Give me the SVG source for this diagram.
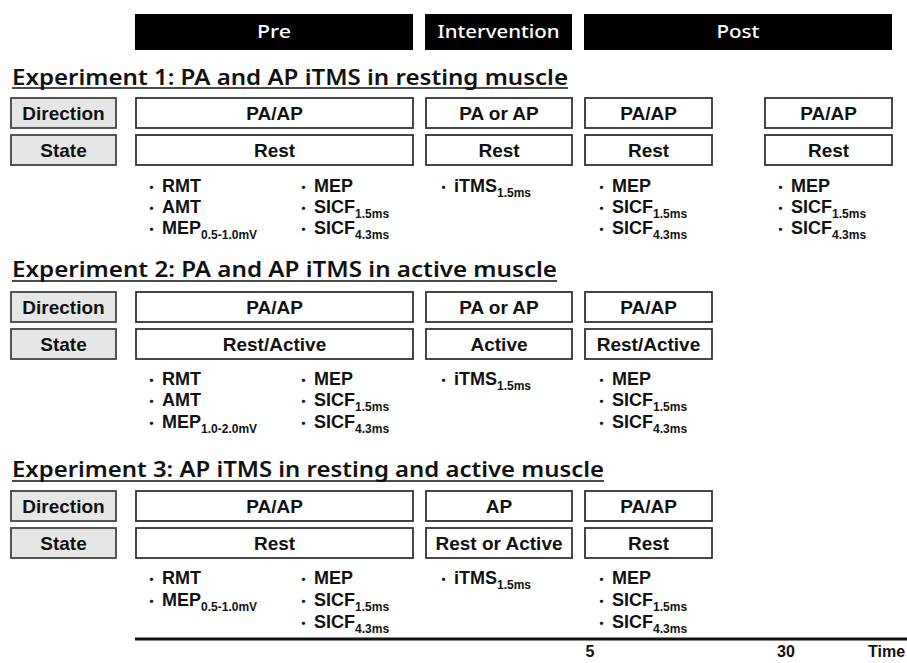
<svg xmlns="http://www.w3.org/2000/svg" width="907" height="663" viewBox="0 0 907 663">
<style>
.bar{fill:#000}
.bartxt{font-family:"Noto Sans","Liberation Sans",sans-serif;font-weight:500;font-size:18px;fill:#fff;text-anchor:middle}
.h{font-family:"Noto Sans","Liberation Sans",sans-serif;font-weight:600;font-size:22px;fill:#111}
.ul{stroke:#111;stroke-width:1.6}
.lbl{fill:#e6e6e6;stroke:#444;stroke-width:1.8}
.box{fill:#fff;stroke:#333;stroke-width:1.8}
.bt{font-family:"Liberation Sans",Arial,sans-serif;font-weight:bold;font-size:19px;text-anchor:middle;fill:#111}
.b{font-family:"Liberation Sans",Arial,"Noto Sans CJK JP",sans-serif;font-weight:bold;font-size:18px;fill:#111}
.d{font-family:"Noto Sans CJK JP",sans-serif;font-size:13px}
.sub{font-size:12px}
.tl{stroke:#111;stroke-width:3}
.tt{font-family:"Liberation Sans",Arial,sans-serif;font-weight:bold;font-size:16px;fill:#111}
</style>

<g id="phase-bars">
  <g id="bar-pre"><rect class="bar" x="135" y="14" width="278" height="36"/><text class="bartxt" x="274" y="38" textLength="34" lengthAdjust="spacingAndGlyphs">Pre</text></g>
  <g id="bar-intervention"><rect class="bar" x="425" y="14" width="147" height="36"/><text class="bartxt" x="498.5" y="38" textLength="122" lengthAdjust="spacingAndGlyphs">Intervention</text></g>
  <g id="bar-post"><rect class="bar" x="584" y="14" width="308" height="36"/><text class="bartxt" x="738" y="38" textLength="43" lengthAdjust="spacingAndGlyphs">Post</text></g>
</g>

<!-- Experiment 1 -->
<g id="exp1">
  <g id="exp1-title"><text class="h" x="12" y="85" textLength="556" lengthAdjust="spacingAndGlyphs">Experiment 1: PA and AP iTMS in resting muscle</text><line class="ul" x1="12" y1="88" x2="568" y2="88"/></g>
  <g id="exp1-direction-label"><rect class="lbl" x="11" y="98" width="105" height="30"/><text class="bt" x="63.5" y="120">Direction</text></g>
  <g id="exp1-state-label"><rect class="lbl" x="11" y="135" width="105" height="30"/><text class="bt" x="63.5" y="157">State</text></g>
  <g id="exp1-pre-dir"><rect class="box" x="136" y="98" width="277" height="30"/><text class="bt" x="274.5" y="120">PA/AP</text></g>
  <g id="exp1-pre-state"><rect class="box" x="136" y="135" width="277" height="30"/><text class="bt" x="274.5" y="157">Rest</text></g>
  <g id="exp1-int-dir"><rect class="box" x="426" y="98" width="146" height="30"/><text class="bt" x="499" y="120">PA or AP</text></g>
  <g id="exp1-int-state"><rect class="box" x="426" y="135" width="146" height="30"/><text class="bt" x="499" y="157">Rest</text></g>
  <g id="exp1-post1-dir"><rect class="box" x="585" y="98" width="127" height="30"/><text class="bt" x="648.5" y="120">PA/AP</text></g>
  <g id="exp1-post1-state"><rect class="box" x="585" y="135" width="127" height="30"/><text class="bt" x="648.5" y="157">Rest</text></g>
  <g id="exp1-post2-dir"><rect class="box" x="765" y="98" width="127" height="30"/><text class="bt" x="828.5" y="120">PA/AP</text></g>
  <g id="exp1-post2-state"><rect class="box" x="765" y="135" width="127" height="30"/><text class="bt" x="828.5" y="157">Rest</text></g>
  <g id="exp1-pre-list1">
    <text class="b" x="145" y="192"><tspan class="d">・</tspan><tspan dx="4">RMT</tspan></text>
    <text class="b" x="145" y="213"><tspan class="d">・</tspan><tspan dx="4">AMT</tspan></text>
    <text class="b" x="145" y="234"><tspan class="d">・</tspan><tspan dx="4">MEP</tspan><tspan class="sub" dy="5">0.5-1.0mV</tspan></text>
  </g>
  <g id="exp1-pre-list2">
    <text class="b" x="297" y="192"><tspan class="d">・</tspan><tspan dx="4">MEP</tspan></text>
    <text class="b" x="297" y="213"><tspan class="d">・</tspan><tspan dx="4">SICF</tspan><tspan class="sub" dy="5">1.5ms</tspan></text>
    <text class="b" x="297" y="234"><tspan class="d">・</tspan><tspan dx="4">SICF</tspan><tspan class="sub" dy="5">4.3ms</tspan></text>
  </g>
  <g id="exp1-int-list">
    <text class="b" x="437" y="192"><tspan class="d">・</tspan><tspan dx="4">iTMS</tspan><tspan class="sub" dy="5">1.5ms</tspan></text>
  </g>
  <g id="exp1-post1-list">
    <text class="b" x="595" y="192"><tspan class="d">・</tspan><tspan dx="4">MEP</tspan></text>
    <text class="b" x="595" y="213"><tspan class="d">・</tspan><tspan dx="4">SICF</tspan><tspan class="sub" dy="5">1.5ms</tspan></text>
    <text class="b" x="595" y="234"><tspan class="d">・</tspan><tspan dx="4">SICF</tspan><tspan class="sub" dy="5">4.3ms</tspan></text>
  </g>
  <g id="exp1-post2-list">
    <text class="b" x="774" y="192"><tspan class="d">・</tspan><tspan dx="4">MEP</tspan></text>
    <text class="b" x="774" y="213"><tspan class="d">・</tspan><tspan dx="4">SICF</tspan><tspan class="sub" dy="5">1.5ms</tspan></text>
    <text class="b" x="774" y="234"><tspan class="d">・</tspan><tspan dx="4">SICF</tspan><tspan class="sub" dy="5">4.3ms</tspan></text>
  </g>
</g>

<!-- Experiment 2 -->
<g id="exp2">
  <g id="exp2-title"><text class="h" x="12" y="277" textLength="545" lengthAdjust="spacingAndGlyphs">Experiment 2: PA and AP iTMS in active muscle</text><line class="ul" x1="12" y1="281" x2="557" y2="281"/></g>
  <g id="exp2-direction-label"><rect class="lbl" x="11" y="292" width="105" height="30"/><text class="bt" x="63.5" y="314">Direction</text></g>
  <g id="exp2-state-label"><rect class="lbl" x="11" y="329" width="105" height="30"/><text class="bt" x="63.5" y="351">State</text></g>
  <g id="exp2-pre-dir"><rect class="box" x="136" y="292" width="277" height="30"/><text class="bt" x="274.5" y="314">PA/AP</text></g>
  <g id="exp2-pre-state"><rect class="box" x="136" y="329" width="277" height="30"/><text class="bt" x="274.5" y="351">Rest/Active</text></g>
  <g id="exp2-int-dir"><rect class="box" x="426" y="292" width="146" height="30"/><text class="bt" x="499" y="314">PA or AP</text></g>
  <g id="exp2-int-state"><rect class="box" x="426" y="329" width="146" height="30"/><text class="bt" x="499" y="351">Active</text></g>
  <g id="exp2-post1-dir"><rect class="box" x="585" y="292" width="127" height="30"/><text class="bt" x="648.5" y="314">PA/AP</text></g>
  <g id="exp2-post1-state"><rect class="box" x="585" y="329" width="127" height="30"/><text class="bt" x="648.5" y="351">Rest/Active</text></g>
  <g id="exp2-pre-list1">
    <text class="b" x="145" y="385"><tspan class="d">・</tspan><tspan dx="4">RMT</tspan></text>
    <text class="b" x="145" y="406"><tspan class="d">・</tspan><tspan dx="4">AMT</tspan></text>
    <text class="b" x="145" y="428"><tspan class="d">・</tspan><tspan dx="4">MEP</tspan><tspan class="sub" dy="5">1.0-2.0mV</tspan></text>
  </g>
  <g id="exp2-pre-list2">
    <text class="b" x="297" y="385"><tspan class="d">・</tspan><tspan dx="4">MEP</tspan></text>
    <text class="b" x="297" y="406"><tspan class="d">・</tspan><tspan dx="4">SICF</tspan><tspan class="sub" dy="5">1.5ms</tspan></text>
    <text class="b" x="297" y="428"><tspan class="d">・</tspan><tspan dx="4">SICF</tspan><tspan class="sub" dy="5">4.3ms</tspan></text>
  </g>
  <g id="exp2-int-list">
    <text class="b" x="437" y="385"><tspan class="d">・</tspan><tspan dx="4">iTMS</tspan><tspan class="sub" dy="5">1.5ms</tspan></text>
  </g>
  <g id="exp2-post1-list">
    <text class="b" x="595" y="385"><tspan class="d">・</tspan><tspan dx="4">MEP</tspan></text>
    <text class="b" x="595" y="406"><tspan class="d">・</tspan><tspan dx="4">SICF</tspan><tspan class="sub" dy="5">1.5ms</tspan></text>
    <text class="b" x="595" y="428"><tspan class="d">・</tspan><tspan dx="4">SICF</tspan><tspan class="sub" dy="5">4.3ms</tspan></text>
  </g>
</g>

<!-- Experiment 3 -->
<g id="exp3">
  <g id="exp3-title"><text class="h" x="12" y="477" textLength="592" lengthAdjust="spacingAndGlyphs">Experiment 3: AP iTMS in resting and active muscle</text><line class="ul" x1="12" y1="481" x2="604" y2="481"/></g>
  <g id="exp3-direction-label"><rect class="lbl" x="11" y="491" width="105" height="30"/><text class="bt" x="63.5" y="513">Direction</text></g>
  <g id="exp3-state-label"><rect class="lbl" x="11" y="528" width="105" height="30"/><text class="bt" x="63.5" y="550">State</text></g>
  <g id="exp3-pre-dir"><rect class="box" x="136" y="491" width="277" height="30"/><text class="bt" x="274.5" y="513">PA/AP</text></g>
  <g id="exp3-pre-state"><rect class="box" x="136" y="528" width="277" height="30"/><text class="bt" x="274.5" y="550">Rest</text></g>
  <g id="exp3-int-dir"><rect class="box" x="426" y="491" width="146" height="30"/><text class="bt" x="499" y="513">AP</text></g>
  <g id="exp3-int-state"><rect class="box" x="426" y="528" width="146" height="30"/><text class="bt" x="499" y="550">Rest or Active</text></g>
  <g id="exp3-post1-dir"><rect class="box" x="585" y="491" width="127" height="30"/><text class="bt" x="648.5" y="513">PA/AP</text></g>
  <g id="exp3-post1-state"><rect class="box" x="585" y="528" width="127" height="30"/><text class="bt" x="648.5" y="550">Rest</text></g>
  <g id="exp3-pre-list1">
    <text class="b" x="145" y="584"><tspan class="d">・</tspan><tspan dx="4">RMT</tspan></text>
    <text class="b" x="145" y="606"><tspan class="d">・</tspan><tspan dx="4">MEP</tspan><tspan class="sub" dy="5">0.5-1.0mV</tspan></text>
  </g>
  <g id="exp3-pre-list2">
    <text class="b" x="297" y="584"><tspan class="d">・</tspan><tspan dx="4">MEP</tspan></text>
    <text class="b" x="297" y="606"><tspan class="d">・</tspan><tspan dx="4">SICF</tspan><tspan class="sub" dy="5">1.5ms</tspan></text>
    <text class="b" x="297" y="628"><tspan class="d">・</tspan><tspan dx="4">SICF</tspan><tspan class="sub" dy="5">4.3ms</tspan></text>
  </g>
  <g id="exp3-int-list">
    <text class="b" x="437" y="584"><tspan class="d">・</tspan><tspan dx="4">iTMS</tspan><tspan class="sub" dy="5">1.5ms</tspan></text>
  </g>
  <g id="exp3-post1-list">
    <text class="b" x="595" y="584"><tspan class="d">・</tspan><tspan dx="4">MEP</tspan></text>
    <text class="b" x="595" y="606"><tspan class="d">・</tspan><tspan dx="4">SICF</tspan><tspan class="sub" dy="5">1.5ms</tspan></text>
    <text class="b" x="595" y="628"><tspan class="d">・</tspan><tspan dx="4">SICF</tspan><tspan class="sub" dy="5">4.3ms</tspan></text>
  </g>
</g>

<g id="connectors">
  <line class="tl" x1="135" y1="639" x2="907" y2="639"/>
</g>
<g id="time-axis-labels">
  <text class="tt" x="590" y="657" text-anchor="middle">5</text>
  <text class="tt" x="786" y="657" text-anchor="middle">30</text>
  <text class="tt" x="868" y="657">Time</text>
</g>
</svg>
